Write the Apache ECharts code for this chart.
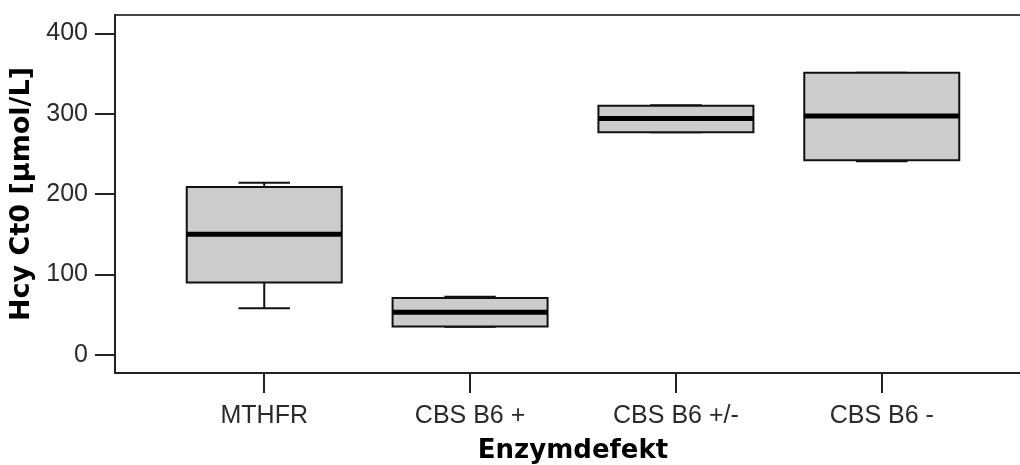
<!DOCTYPE html>
<html>
<head>
<meta charset="utf-8">
<script src="https://cdn.jsdelivr.net/npm/echarts@6/dist/echarts.min.js"></script>
<style>
html,body{margin:0;padding:0;background:#fff;}
#chart{width:1020px;height:465px;}
</style>
</head>
<body>
<div id="chart"></div>
<script>
// Data
const categories = ['MTHFR', 'CBS B6 +', 'CBS B6 +/-', 'CBS B6 -'];
const whiskerLow  = [58, 35, 277, 241];
const q1          = [90, 35.5, 277, 242];
const median      = [150, 53, 294, 297];
const q3          = [209, 71, 310, 351];
const whiskerHigh = [214, 72.5, 310.5, 351];
const yTickValues = [0, 100, 200, 300, 400];
const xTickValues = [0, 1, 2, 3];

const boxData = categories.map((c, i) => [i, whiskerLow[i], q1[i], median[i], q3[i], whiskerHigh[i]]);

const chart = echarts.init(document.getElementById('chart'), null, {renderer: 'canvas'});

const BOX_W = 0.753;   // in category units
const CAP_W = 0.25;

function renderBox(params, api) {
  const x = api.value(0);
  const lo = api.coord([x, api.value(1)]);
  const b1 = api.coord([x, api.value(2)]);
  const md = api.coord([x, api.value(3)]);
  const b3 = api.coord([x, api.value(4)]);
  const hi = api.coord([x, api.value(5)]);
  const half = api.size([BOX_W, 0])[0] / 2;
  const capHalf = api.size([CAP_W, 0])[0] / 2;
  const cx = lo[0];
  const lineStyle = {stroke: '#111', lineWidth: 2, fill: null};
  return {
    type: 'group',
    children: [
      {type: 'line', shape: {x1: cx, y1: b3[1], x2: cx, y2: hi[1]}, style: lineStyle},
      {type: 'line', shape: {x1: cx, y1: b1[1], x2: cx, y2: lo[1]}, style: lineStyle},
      {type: 'line', shape: {x1: cx - capHalf, y1: hi[1], x2: cx + capHalf, y2: hi[1]}, style: lineStyle},
      {type: 'line', shape: {x1: cx - capHalf, y1: lo[1], x2: cx + capHalf, y2: lo[1]}, style: lineStyle},
      {type: 'rect', shape: {x: cx - half, y: b3[1], width: half * 2, height: b1[1] - b3[1]},
        style: {fill: '#cccccc', stroke: '#111', lineWidth: 2}},
      {type: 'line', shape: {x1: cx - half, y1: md[1], x2: cx + half, y2: md[1]},
        style: {stroke: '#000', lineWidth: 5}}
    ]
  };
}

const option = {
  animation: false,
  backgroundColor: '#ffffff',
  grid: {
    left: 115, top: 15, width: 916, height: 358,
    outerBoundsMode: 'none',
    containLabel: false,
    show: true, borderColor: '#444', borderWidth: 2, backgroundColor: 'transparent'
  },
  xAxis: {
    type: 'value',
    min: -0.725, max: 3.725,
    name: 'Enzymdefekt',
    nameLocation: 'middle',
    nameGap: 65,
    nameTextStyle: {fontFamily: 'DejaVu Sans', fontWeight: 'bold', fontSize: 26, color: '#000'},
    splitLine: {show: false},
    axisLine: {show: true, onZero: false, lineStyle: {color: '#222', width: 2}},
    axisTick: {show: true, inside: false, length: 20, lineStyle: {color: '#222', width: 2}, customValues: xTickValues},
    axisLabel: {
      customValues: xTickValues,
      margin: 31,
      fontFamily: 'Liberation Sans', fontSize: 25, color: '#2a2a2a',
      formatter: v => categories[Math.round(v)] || ''
    }
  },
  yAxis: {
    type: 'value',
    min: -22.4, max: 422.7,
    name: 'Hcy Ct0 [µmol/L]',
    nameLocation: 'middle',
    nameGap: 64,
    nameTextStyle: {fontFamily: 'DejaVu Sans', fontWeight: 'bold', fontSize: 27, color: '#000'},
    splitLine: {show: false},
    axisLine: {show: true, onZero: false, lineStyle: {color: '#222', width: 2}},
    axisTick: {show: true, inside: false, length: 20, lineStyle: {color: '#222', width: 2}, customValues: yTickValues},
    axisLabel: {
      customValues: yTickValues,
      margin: 27,
      fontFamily: 'Liberation Sans', fontSize: 25, color: '#2a2a2a'
    }
  },
  series: [{
    type: 'custom',
    renderItem: renderBox,
    encode: {x: 0, y: [1, 2, 3, 4, 5]},
    data: boxData,
    clip: false
  }]
};
chart.setOption(option);
</script>
</body>
</html>
